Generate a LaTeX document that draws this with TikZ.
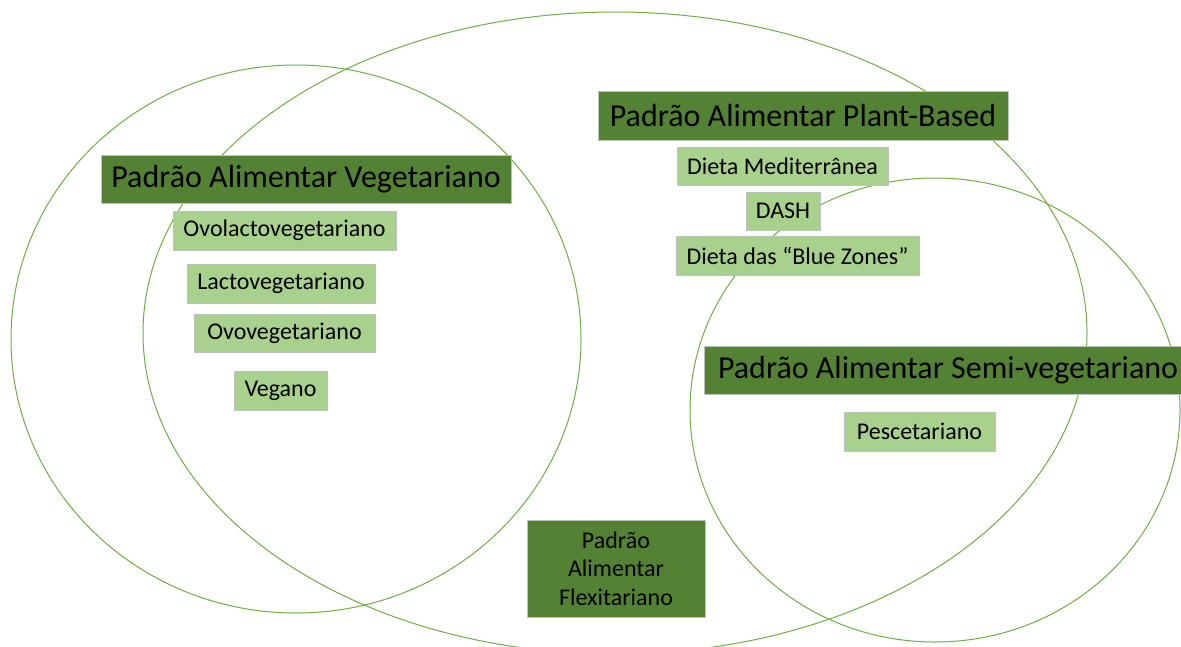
\documentclass[tikz,border=0pt]{standalone}
\usepackage{fontspec}
\setmainfont{Carlito}
\definecolor{darkleaf}{HTML}{548235}
\definecolor{lightleaf}{HTML}{A9D18E}
\definecolor{ringleaf}{HTML}{70AD47}
\tikzset{
  ring/.style={draw=ringleaf, line width=0.75pt},
  sz/.style 2 args={minimum width=#1*0.75pt, minimum height=#2*0.75pt},
  bigbox/.style={fill=darkleaf, draw=black!25, line width=0.5pt, inner sep=0pt,
    font=\fontsize{24}{29}\selectfont},
  smallbox/.style={fill=lightleaf, draw=black!25, line width=0.5pt, inner sep=0pt,
    font=\fontsize{18}{21.5}\selectfont}
}
\begin{document}
\begin{tikzpicture}[x=0.75pt, y=-0.75pt]
\useasboundingbox (0,0) rectangle (1181,646);
\clip (0,0) rectangle (1181,646);
\fill[white] (0,0) rectangle (1181,646);
% the three circles
\draw[ring] (296,339) ellipse [x radius=285, y radius=274];
\draw[ring] (615,333) ellipse [x radius=472, y radius=321];
\draw[ring] (935,410) ellipse [x radius=245, y radius=232];
% vegetariano
\node[bigbox, sz={410}{48}] (veg) at (306,179) {Padrão Alimentar Vegetariano};
\node[smallbox, sz={223}{39}] (ovolacto) at (284.5,230.5) {Ovolactovegetariano};
\node[smallbox, sz={188}{39}] (lacto) at (281,283.5) {Lactovegetariano};
\node[smallbox, sz={181}{38}] (ovo) at (284.5,333) {Ovovegetariano};
\node[smallbox, sz={93}{39}] (vegano) at (280.5,390.5) {Vegano};
% plant-based
\node[bigbox, sz={410}{49}] (plant) at (803,115.5) {Padrão Alimentar Plant-Based};
\node[smallbox, sz={211}{38}] (medit) at (782.5,166) {Dieta Mediterrânea};
\node[smallbox, sz={74}{38}] (dash) at (783,211) {DASH};
\node[smallbox, sz={243}{39}] (blue) at (797.5,255.5) {Dieta das “Blue Zones”};
% semi-vegetariano
\node[bigbox, sz={488}{48}] (semi) at (948,370) {Padrão Alimentar Semi-vegetariano};
\node[smallbox, sz={151}{39}] (pesc) at (919.5,431.5) {Pescetariano};
% flexitariano
\node[bigbox, sz={178}{97}, align=center, font=\fontsize{18}{21.4}\selectfont]
  (flex) at (616,568.5) {Padrão\\Alimentar\\Flexitariano};
\end{tikzpicture}
\end{document}
